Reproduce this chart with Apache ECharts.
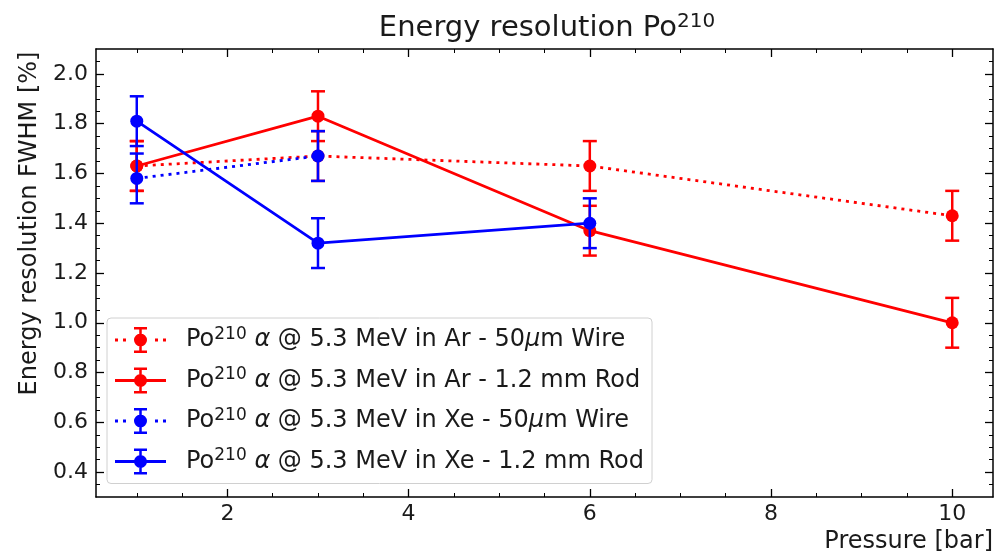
<!DOCTYPE html>
<html>
<head>
<meta charset="utf-8">
<script src="https://cdn.jsdelivr.net/npm/echarts@6/dist/echarts.min.js"></script>
<style>
	html, body { margin: 0; padding: 0; background: #fff; }
	#chart { width: 996px; height: 560px; }
</style>
</head>
<body>
<div id="chart"></div>
<script>
// 数据
const pressure = [1, 3, 6, 10];
const arWire = [1.63, 1.67, 1.63, 1.43];
const arWireErr = [0.1, 0.1, 0.1, 0.1];
const arRod = [1.63, 1.83, 1.37, 1.0];
const arRodErr = [0.1, 0.1, 0.1, 0.1];
const xeWire = [1.58, 1.67];
const xeWireErr = [0.1, 0.1];
const xeRod = [1.81, 1.32, 1.4];
const xeRodErr = [0.1, 0.1, 0.1];

// 刻度
const xTicks = [2, 4, 6, 8, 10];
const yTicks = [0.4, 0.6, 0.8, 1.0, 1.2, 1.4, 1.6, 1.8, 2.0];
const xMinorTicks = [];
for (let i = 1; i <= 20; i++) xMinorTicks.push(i * 0.5);
const yMinorTicks = [];
for (let i = 7; i <= 41; i++) yMinorTicks.push(Math.round(i * 5) / 100);

const seriesNames = [
	"Ar - 50μm Wire",
	"Ar - 1.2 mm Rod",
	"Xe - 50μm Wire",
	"Xe - 1.2 mm Rod",
];

const font = "DejaVu Sans";
const textColor = "#1a1a1a";

// 图例图标：线 + 点 + 误差棒
const iconBar = "M24.25,0H26.75V26H24.25Z M19,0H32V2.5H19Z M19,23.5H32V26H19Z M19,13a6.5,6.5 0 1,1 13,0a6.5,6.5 0 1,1 -13,0Z";
const iconSolid = "path://M0,11.6H51V14.4H0Z " + iconBar;
const iconDotted = "path://M0,11.6H3V14.4H0Z M8,11.6H11V14.4H8Z M40,11.6H43V14.4H40Z M48,11.6H51V14.4H48Z " + iconBar;

const chart = echarts.init(document.getElementById("chart"), null, { renderer: "canvas" });

// 误差棒
function renderErr(params, api) {
	const x = api.value(0);
	const lo = api.coord([x, api.value(1)]);
	const hi = api.coord([x, api.value(2)]);
	const w = 7;
	const style = { stroke: api.visual("color"), lineWidth: 2.5 };
	return {
		type: "group",
		children: [
			{ type: "line", shape: { x1: lo[0], y1: lo[1], x2: hi[0], y2: hi[1] }, style: style },
			{ type: "line", shape: { x1: lo[0] - w, y1: lo[1], x2: lo[0] + w, y2: lo[1] }, style: style },
			{ type: "line", shape: { x1: hi[0] - w, y1: hi[1], x2: hi[0] + w, y2: hi[1] }, style: style },
		],
	};
}

function makeSeries(name, values, errs, color, dotted, z) {
	const pts = values.map((v, i) => [pressure[i], v]);
	const errData = values.map((v, i) => [pressure[i], v - errs[i], v + errs[i]]);
	return [
		{
			name: name,
			type: "line",
			data: pts,
			z: z,
			symbol: "circle",
			symbolSize: 13,
			color: color,
			itemStyle: { color: color },
			lineStyle: { color: color, width: 2.8, type: dotted ? [3, 5] : "solid" },
			animation: false,
		},
		{
			name: "err_" + name,
			type: "custom",
			data: errData,
			z: z,
			color: color,
			itemStyle: { color: color },
			renderItem: renderErr,
			animation: false,
		},
	];
}

const xBase = { type: "value", min: 0.55, max: 10.45, splitLine: { show: false } };
const yBase = { type: "value", min: 0.3, max: 2.1, splitLine: { show: false } };
const lineBlack = { show: true, onZero: false, lineStyle: { color: "#000", width: 1.5 } };
const majorTick = (vals) => ({ show: true, inside: true, length: 8, customValues: vals, lineStyle: { color: "#000", width: 1.3 } });
const minorTick = (vals) => ({ show: true, inside: true, length: 4, customValues: vals, lineStyle: { color: "#000", width: 1 } });

const option = {
	backgroundColor: "#fff",
	title: {
		text: "{a|Energy resolution Po}{b|210}",
		left: 542,
		textAlign: "center",
		top: 7,
		textStyle: {
			rich: {
				a: { fontFamily: font, fontSize: 29, fontWeight: "normal", color: textColor },
				b: { fontFamily: font, fontSize: 20, fontWeight: "normal", color: textColor, padding: [0, 0, 13, 0] },
			},
		},
	},
	grid: { left: 96, top: 49, right: 3, bottom: 63, show: false },
	legend: {
		data: seriesNames.map((n, i) => ({ name: n, icon: i % 2 === 0 ? iconDotted : iconSolid })),
		orient: "vertical",
		left: 107,
		top: 318,
		padding: [8, 8, 8, 8],
		itemGap: 12.5,
		itemWidth: 51,
		itemHeight: 26,
		backgroundColor: "#fff",
		borderColor: "#d0d0d0",
		borderWidth: 1,
		borderRadius: 4,
		formatter: (name) => {
			const parts = name.split(" - ");
			const gas = parts[0];
			const rest = parts[1];
			let tail = "{n| " + rest + "}";
			if (rest.indexOf("μm") >= 0) {
				tail = "{n| 50}{i|μ}{n|m Wire}";
			}
			return "{n|Po}{s|210}{n| }{i|α}{n| @ 5.3 MeV in " + gas + " -}" + tail;
		},
		textStyle: {
			padding: [0, 0, 0, 15],
			rich: {
				n: { fontFamily: font, fontSize: 24, lineHeight: 28, color: textColor },
				i: { fontFamily: font, fontSize: 24, lineHeight: 28, color: textColor, fontStyle: "italic" },
				s: { fontFamily: font, fontSize: 17, lineHeight: 17, color: textColor, padding: [0, 0, 11, 0] },
			},
		},
	},
	xAxis: [
		Object.assign({}, xBase, {
			position: "bottom",
			name: "Pressure [bar]",
			nameLocation: "end",
			nameGap: 0,
			nameTextStyle: {
				fontFamily: font,
				fontSize: 24,
				color: textColor,
				align: "right",
				verticalAlign: "top",
				padding: [33, 0, 0, 0],
			},
			axisLine: lineBlack,
			axisTick: majorTick(xTicks),
			axisLabel: { fontFamily: font, fontSize: 22, color: textColor, margin: 6, customValues: xTicks },
		}),
		Object.assign({}, xBase, {
			position: "bottom",
			axisLine: { show: false },
			axisTick: minorTick(xMinorTicks),
			axisLabel: { show: false },
		}),
		Object.assign({}, xBase, {
			position: "top",
			axisLine: lineBlack,
			axisTick: majorTick(xTicks),
			axisLabel: { show: false },
		}),
		Object.assign({}, xBase, {
			position: "top",
			axisLine: { show: false },
			axisTick: minorTick(xMinorTicks),
			axisLabel: { show: false },
		}),
	],
	yAxis: [
		Object.assign({}, yBase, {
			position: "left",
			name: "Energy resolution FWHM [%]",
			nameLocation: "middle",
			nameRotate: 90,
			nameGap: 46,
			nameTextStyle: { fontFamily: font, fontSize: 24, color: textColor, padding: [0, 0, 0, 99] },
			axisLine: lineBlack,
			axisTick: majorTick(yTicks),
			axisLabel: {
				fontFamily: font,
				fontSize: 22,
				color: textColor,
				margin: 8,
				customValues: yTicks,
				formatter: (v) => v.toFixed(1),
			},
		}),
		Object.assign({}, yBase, {
			position: "left",
			axisLine: { show: false },
			axisTick: minorTick(yMinorTicks),
			axisLabel: { show: false },
		}),
		Object.assign({}, yBase, {
			position: "right",
			axisLine: lineBlack,
			axisTick: majorTick(yTicks),
			axisLabel: { show: false },
		}),
		Object.assign({}, yBase, {
			position: "right",
			axisLine: { show: false },
			axisTick: minorTick(yMinorTicks),
			axisLabel: { show: false },
		}),
	],
	series: [
		...makeSeries(seriesNames[0], arWire, arWireErr, "#ff0000", true, 2),
		...makeSeries(seriesNames[1], arRod, arRodErr, "#ff0000", false, 3),
		...makeSeries(seriesNames[2], xeWire, xeWireErr, "#0000ff", true, 4),
		...makeSeries(seriesNames[3], xeRod, xeRodErr, "#0000ff", false, 5),
	],
};

chart.setOption(option);
</script>
</body>
</html>
